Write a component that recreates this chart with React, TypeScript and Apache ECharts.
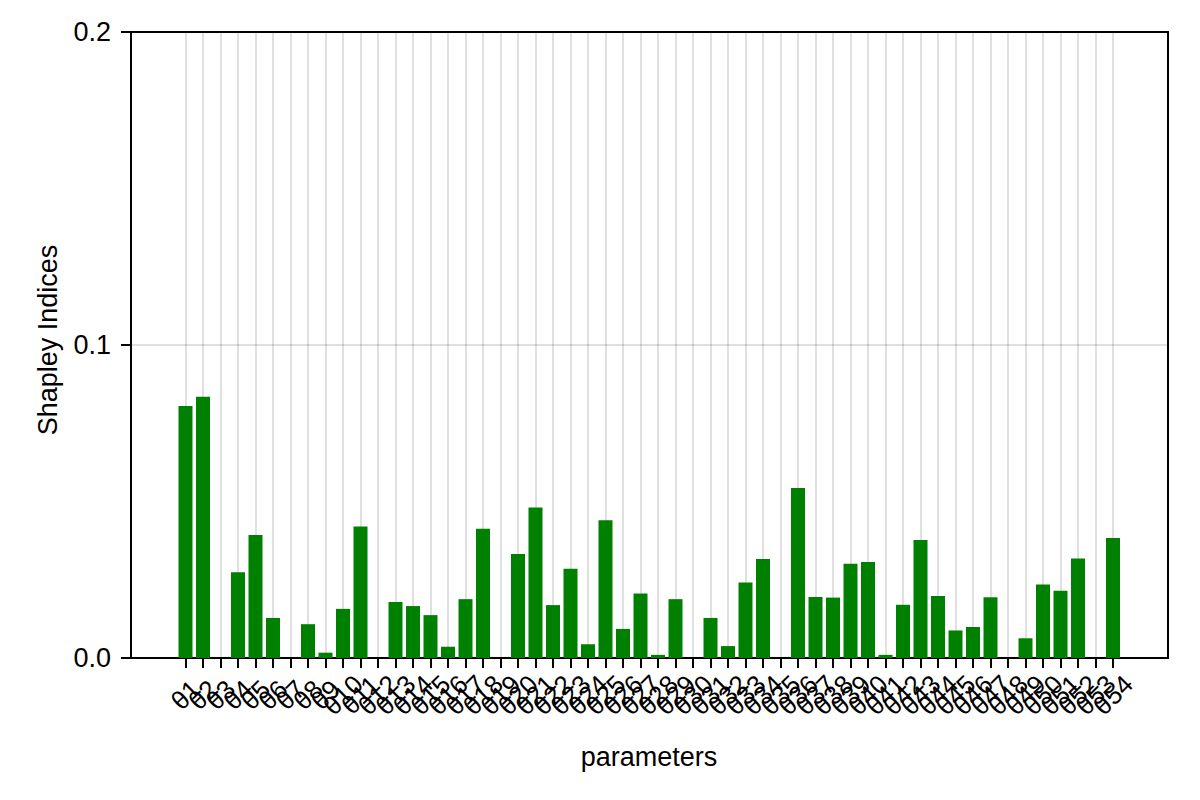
import React, { useEffect, useRef } from "react";
import * as echarts from "echarts";

const paramLabels: string[] = Array.from({ length: 54 }, (_, i) => "θ" + (i + 1));
const shapleyValues: number[] = [
  0.0805, 0.0835, 0.0, 0.0274, 0.0393, 0.0128, 0.0, 0.0108, 0.0017, 0.0157,
  0.042, 0.0, 0.0179, 0.0166, 0.0137, 0.0036, 0.0188, 0.0413, 0.0, 0.0332,
  0.0481, 0.0169, 0.0285, 0.0044, 0.044, 0.0093, 0.0206, 0.001, 0.0188, 0.0,
  0.0128, 0.0038, 0.0241, 0.0316, 0.0, 0.0543, 0.0195, 0.0193, 0.0301, 0.0307,
  0.001, 0.017, 0.0377, 0.0198, 0.0088, 0.0099, 0.0194, 0.0, 0.0063, 0.0235,
  0.0215, 0.0318, 0.0, 0.0383,
];
const yTickLabels: string[] = ["0.0", "0.1", "0.2"];

const FONT = "'Liberation Sans', Arial, sans-serif";
const GRID_LINE = "rgba(0,0,0,0.12)";

export default function App() {
  const ref = useRef<HTMLDivElement>(null);
  useEffect(() => {
    if (!ref.current) return;
    const chart = echarts.init(ref.current, null, { renderer: "svg" });
    chart.setOption({
      animation: false,
      backgroundColor: "#ffffff",
      grid: [
        {
          left: 131,
          right: 32,
          top: 32,
          bottom: 142,
          show: true,
          borderColor: "#000000",
          borderWidth: 2,
          backgroundColor: "transparent",
        },
        {
          left: 185.5,
          right: 87,
          top: 32,
          bottom: 142,
        },
      ],
      xAxis: [
        {
          gridIndex: 0,
          type: "value",
          min: 0,
          max: 1,
          show: false,
        },
        {
          gridIndex: 1,
          type: "category",
          data: paramLabels,
          boundaryGap: false,
          axisLine: { show: false },
          axisTick: {
            show: true,
            length: 10,
            inside: false,
            interval: 0,
            lineStyle: { color: "#000", width: 2 },
          },
          splitLine: {
            show: true,
            interval: 0,
            lineStyle: { color: GRID_LINE, width: 2 },
          },
          axisLabel: {
            interval: 0,
            hideOverlap: false,
            rotate: 45,
            align: "center",
            verticalAlign: "middle",
            margin: 37,
            fontSize: 26,
            fontFamily: FONT,
            color: "#000",
          },
        },
      ],
      yAxis: [
        {
          gridIndex: 0,
          type: "value",
          min: 0,
          max: 0.2,
          interval: 0.1,
          axisLine: { show: true, onZero: false, lineStyle: { color: "#000", width: 2 } },
          axisTick: {
            show: true,
            length: 10,
            inside: false,
            lineStyle: { color: "#000", width: 2 },
          },
          splitLine: {
            show: true,
            lineStyle: { color: GRID_LINE, width: 2 },
          },
          axisLabel: {
            formatter: (v: number) => yTickLabels[Math.round(v * 10)] ?? "",
            margin: 20,
            fontSize: 27,
            fontFamily: FONT,
            color: "#000",
          },
        },
        {
          gridIndex: 1,
          type: "value",
          min: 0,
          max: 0.2,
          show: false,
        },
      ],
      graphic: [
        {
          type: "text",
          x: 649,
          y: 757,
          style: {
            text: "parameters",
            fontSize: 27,
            fontFamily: FONT,
            fill: "#000",
            textAlign: "center",
            textVerticalAlign: "middle",
          },
        },
        {
          type: "text",
          x: 48,
          y: 340,
          rotation: Math.PI / 2,
          style: {
            text: "Shapley Indices",
            fontSize: 27,
            fontFamily: FONT,
            fill: "#000",
            textAlign: "center",
            textVerticalAlign: "middle",
          },
        },
      ],
      series: [
        {
          type: "bar",
          xAxisIndex: 1,
          yAxisIndex: 1,
          barWidth: 14,
          clip: false,
          itemStyle: { color: "#008000" },
          data: shapleyValues,
        },
      ],
    });
    return () => chart.dispose();
  }, []);
  return (
    <div
      ref={ref}
      style={{ position: "fixed", left: 0, top: 0, width: 1200, height: 800 }}
    />
  );
}
